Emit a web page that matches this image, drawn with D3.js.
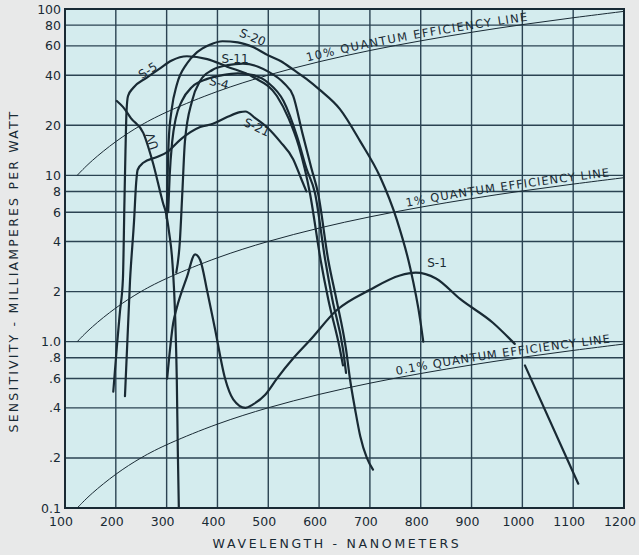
<!DOCTYPE html>
<html>
<head>
<meta charset="utf-8">
<script src="https://cdn.jsdelivr.net/npm/d3@7"></script>
<style>
    body { margin: 0; background: #e8e9e9; }
    svg { display: block; font-family: "DejaVu Sans", sans-serif; }
</style>
</head>
<body>
<script>
const WIDTH_SVG = 639;
const HEIGHT_SVG = 555;

// ---- data (wavelength nm, sensitivity mA/W) ----
const xTicks = [100, 200, 300, 400, 500, 600, 700, 800, 900, 1000, 1100, 1200];
const yTicks = [0.1, 0.2, 0.4, 0.6, 0.8, 1, 2, 4, 6, 8, 10, 20, 40, 60, 80, 100];
const yTickLabels = ["0.1", ".2", ".4", ".6", ".8", "1.0", "2", "4", "6", "8", "10", "20", "40", "60", "80", "100"];

const qe10 = [[124, 10], [150, 12.1], [200, 16.1], [250, 20.2], [300, 24.2], [400, 32.3], [500, 40.3], [600, 48.4], [700, 56.5], [800, 64.5], [900, 72.6], [1000, 80.7], [1100, 88.7], [1200, 96.8]];
const qe1 = [[124, 1], [150, 1.21], [200, 1.61], [250, 2.02], [300, 2.42], [400, 3.23], [500, 4.03], [600, 4.84], [700, 5.65], [800, 6.45], [900, 7.26], [1000, 8.07], [1100, 8.87], [1200, 9.68]];
const qe01 = [[124, 0.1], [150, 0.121], [200, 0.161], [250, 0.202], [300, 0.242], [400, 0.323], [500, 0.403], [600, 0.484], [700, 0.565], [800, 0.645], [900, 0.726], [1000, 0.807], [1100, 0.887], [1200, 0.968]];

const s5 = [[195, 0.5], [202, 0.93], [208, 1.5], [214, 2.4], [217, 7], [219, 14], [221, 24], [224, 30], [234, 33.5], [261, 38.7], [287, 44], [310, 49], [340, 52], [380, 50], [419, 45], [470, 39], [517, 30], [540, 22], [560, 15], [582, 7.8], [603, 3.1], [618, 1.8], [641, 0.9], [647, 0.72]];
const uv = [[202, 28], [214, 25.8], [230, 22], [254, 18], [273, 11.9], [293, 6.8], [299, 5.9], [305, 4.5], [311, 3.1], [317, 1.35], [320, 0.59], [322, 0.22], [324, 0.1]];
const s21 = [[218, 0.47], [228, 2.35], [236, 5.4], [240, 9], [243, 10.8], [254, 11.9], [281, 12.9], [301, 13.8], [326, 16.3], [366, 19.5], [391, 20.4], [419, 22.4], [444, 24], [455, 24.2], [475, 22], [498, 19.4], [523, 16], [549, 12.5], [565, 9.5], [575, 8]];
const s20 = [[300, 5.5], [302, 10], [304, 16], [310, 25], [320, 35], [340, 47], [360, 55], [385, 61], [410, 64], [440, 63], [470, 59], [498, 53], [525, 48.5], [550, 43], [575, 38], [602, 32.5], [641, 25], [681, 16], [720, 9.8], [753, 5.4], [779, 2.8], [799, 1.35], [805, 1.0]];
const s11 = [[319, 2.6], [326, 4], [331, 8], [336, 16], [350, 28], [366, 37], [390, 43], [420, 46], [450, 47], [480, 45], [500, 42], [530, 36], [549, 30], [567, 18], [585, 11], [598, 7.8], [618, 3.1], [634, 1.8], [653, 0.9], [661, 0.59], [671, 0.39], [681, 0.27], [694, 0.2], [706, 0.17]];
const s4 = [[303, 6], [306, 10], [311, 16], [318, 22], [330, 28], [350, 34], [380, 38], [410, 40], [440, 41], [470, 40], [500, 36], [530, 28], [557, 17], [575, 11], [592, 7.8], [612, 3.1], [626, 1.8], [647, 0.9], [653, 0.65]];
const s1 = [[301, 0.6], [313, 1.3], [320, 1.6], [340, 2.45], [356, 3.35], [366, 3.1], [380, 2.0], [395, 1.2], [415, 0.6], [431, 0.45], [455, 0.4], [470, 0.42], [494, 0.48], [517, 0.6], [550, 0.8], [582, 1.02], [635, 1.55], [700, 2.05], [759, 2.5], [790, 2.6], [830, 2.4], [878, 1.8], [942, 1.3], [985, 0.97], null, [1005, 0.72], [1110, 0.14]];

const curveLabels = [
    { text: "S-5", x: 150, y: 74, r: -32 },
    { text: "S-20", x: 251, y: 41, r: 22 },
    { text: "S-11", x: 235, y: 63, r: 0 },
    { text: "S-4", x: 218, y: 87, r: 15 },
    { text: "S-21", x: 255, y: 131, r: 25 },
    { text: "UV", x: 156, y: 140, r: -108 },
    { text: "S-1", x: 437, y: 267, r: 0 }
];

// ---- layout ----
const LEFT = 65, RIGHT = 624, TOP = 9, BOTTOM = 508;
const INK = "#192a34";
const GRID = "#2b4352";

const svg = d3.select("body")
    .append("svg")
        .attr("width", WIDTH_SVG)
        .attr("height", HEIGHT_SVG);

const x = d3.scaleLinear().domain([100, 1200]).range([LEFT, RIGHT]);
const y = d3.scaleLog().domain([0.1, 100]).range([BOTTOM, TOP]);

svg.append("rect")
    .attr("x", LEFT).attr("y", TOP)
    .attr("width", RIGHT - LEFT).attr("height", BOTTOM - TOP)
    .attr("fill", "#d4ecee");

// grid
svg.append("g")
    .selectAll("line")
    .data(xTicks)
    .join("line")
        .attr("x1", d => x(d)).attr("x2", d => x(d))
        .attr("y1", TOP).attr("y2", BOTTOM)
        .attr("stroke", GRID).attr("stroke-width", 1.4);

svg.append("g")
    .selectAll("line")
    .data(yTicks)
    .join("line")
        .attr("x1", LEFT).attr("x2", RIGHT)
        .attr("y1", d => y(d)).attr("y2", d => y(d))
        .attr("stroke", GRID).attr("stroke-width", 1.4);

svg.append("rect")
    .attr("x", LEFT).attr("y", TOP)
    .attr("width", RIGHT - LEFT).attr("height", BOTTOM - TOP)
    .attr("fill", "none").attr("stroke", INK).attr("stroke-width", 2);

// tick labels
svg.append("g")
    .selectAll("text")
    .data(yTicks)
    .join("text")
        .attr("x", 61)
        .attr("y", d => y(d) + 4.5)
        .attr("text-anchor", "end")
        .attr("font-size", 12.5)
        .attr("fill", INK)
        .text((d, i) => yTickLabels[i]);

svg.append("g")
    .selectAll("text")
    .data(xTicks)
    .join("text")
        .attr("x", d => x(d) - 4)
        .attr("y", 526)
        .attr("text-anchor", "middle")
        .attr("font-size", 12.5)
        .attr("fill", INK)
        .text(d => d);

// axis titles
svg.append("text")
    .attr("x", 337).attr("y", 548)
    .attr("text-anchor", "middle")
    .attr("font-size", 12.5)
    .attr("letter-spacing", 2.7)
    .attr("fill", INK)
    .text("WAVELENGTH - NANOMETERS");

svg.append("text")
    .attr("transform", "translate(18,271) rotate(-90)")
    .attr("text-anchor", "middle")
    .attr("font-size", 12.5)
    .attr("letter-spacing", 2.2)
    .attr("fill", INK)
    .text("SENSITIVITY - MILLIAMPERES PER WATT");

// lines
const line = d3.line()
    .defined(d => d !== null)
    .x(d => x(d[0]))
    .y(d => y(d[1]));

const qeLines = [
    { id: "qe10", data: qe10, text: "10% QUANTUM EFFICIENCY LINE", start: 308, len: 224 },
    { id: "qe1", data: qe1, text: "1% QUANTUM EFFICIENCY LINE", start: 407, len: 205 },
    { id: "qe01", data: qe01, text: "0.1% QUANTUM EFFICIENCY LINE", start: 397, len: 216 }
];

qeLines.forEach(q => {
    const p = svg.append("path")
        .attr("id", q.id)
        .attr("d", line.curve(d3.curveBasis)(q.data))
        .attr("fill", "none")
        .attr("stroke", INK)
        .attr("stroke-width", 1);

    // find where the label starts along the path
    const node = p.node();
    let lo = 0, hi = node.getTotalLength();
    for (let k = 0; k < 40; k++) {
        let mid = (lo + hi) / 2;
        if (node.getPointAtLength(mid).x < q.start) lo = mid; else hi = mid;
    }

    svg.append("text")
        .attr("font-size", 11.5)
        .attr("fill", INK)
        .attr("dy", -3)
        .append("textPath")
            .attr("href", "#" + q.id)
            .attr("startOffset", lo)
            .attr("textLength", q.len)
            .attr("lengthAdjust", "spacing")
            .text(q.text);
});

line.curve(d3.curveMonotoneX);

[s5, uv, s21, s20, s11, s4, s1].forEach(s => {
    svg.append("path")
        .attr("d", line(s))
        .attr("fill", "none")
        .attr("stroke", INK)
        .attr("stroke-width", 2.2)
        .attr("stroke-linejoin", "round")
        .attr("stroke-linecap", "round");
});

// curve names
svg.append("g")
    .selectAll("text")
    .data(curveLabels)
    .join("text")
        .attr("transform", d => `translate(${d.x},${d.y}) rotate(${d.r})`)
        .attr("text-anchor", "middle")
        .attr("font-size", 12)
        .attr("fill", INK)
        .text(d => d.text);
</script>
</body>
</html>
